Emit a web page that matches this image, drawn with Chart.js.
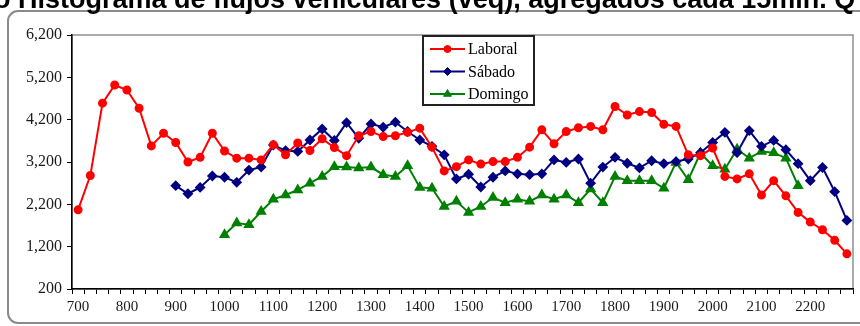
<!DOCTYPE html>
<html>
<head>
<meta charset="utf-8">
<script src="https://cdn.jsdelivr.net/npm/chart.js@4.4.1/dist/chart.umd.min.js"></script>
<style>
  html, body { margin: 0; padding: 0; background: #fff; overflow: hidden; }
  #wrap { position: relative; width: 860px; height: 326px; overflow: hidden; }
  #chart { position: absolute; left: 0; top: 0; }
  #title {
    position: absolute; left: -6px; top: -14px; white-space: nowrap;
    font: bold 27px "Liberation Sans", Arial, sans-serif; line-height: 27px; color: #000;
  }
</style>
</head>
<body>
<div id="wrap">
  <canvas id="chart" width="860" height="326"></canvas>
  <div id="title">o Histograma de flujos vehiculares (veq), agregados cada 15min. Q</div>
</div>
<script>
// time slots (hhmm as decimal hour*100, every 15 min)
const slots = [
    700, 725, 750, 775, 800, 825, 850, 875, 900, 925, 950, 975,
    1000, 1025, 1050, 1075, 1100, 1125, 1150, 1175, 1200, 1225, 1250, 1275,
    1300, 1325, 1350, 1375, 1400, 1425, 1450, 1475, 1500, 1525, 1550, 1575,
    1600, 1625, 1650, 1675, 1700, 1725, 1750, 1775, 1800, 1825, 1850, 1875,
    1900, 1925, 1950, 1975, 2000, 2025, 2050, 2075, 2100, 2125, 2150, 2175,
    2200, 2225, 2250, 2275,
];

// Laboral starts at 700
const laboral = [
    2070, 2880, 4590, 5020, 4900, 4470, 3580, 3880, 3660, 3200,
    3310, 3880, 3460, 3290, 3290, 3250, 3610, 3370, 3650, 3470,
    3750, 3540, 3350, 3820, 3920, 3800, 3820, 3900, 4000, 3550,
    2990, 3090, 3250, 3150, 3210, 3210, 3310, 3550, 3960, 3630,
    3920, 4010, 4040, 3960, 4510, 4310, 4390, 4370, 4090, 4040,
    3370, 3350, 3530, 2860, 2800, 2920, 2420, 2760, 2400, 2010,
    1780, 1600, 1350, 1030,
];

// Sábado starts at 900
const sabadoStart = 900;
const sabado = [
    2640, 2450, 2600, 2870, 2840, 2720, 3010, 3080, 3600, 3470,
    3450, 3720, 3980, 3710, 4130, 3760, 4100, 4020, 4140, 3920,
    3720, 3570, 3370, 2800, 2910, 2610, 2840, 2990, 2920, 2900,
    2920, 3250, 3190, 3270, 2700, 3080, 3310, 3170, 3060, 3230,
    3160, 3210, 3270, 3420, 3660, 3900, 3420, 3940, 3570, 3710,
    3490, 3160, 2760, 3070, 2500, 1820,
];

// Domingo starts at 1000
const domingoStart = 1000;
const domingo = [
    1480, 1760, 1720, 2030, 2320, 2420, 2540, 2700, 2860, 3090,
    3080, 3060, 3080, 2900, 2860, 3110, 2600, 2580, 2150, 2270,
    2010, 2150, 2360, 2240, 2320, 2270, 2420, 2320, 2420, 2240,
    2560, 2240, 2860, 2760, 2760, 2760, 2580, 3190, 2780, 3410,
    3110, 3030, 3500, 3290, 3450, 3420, 3290, 2640,
];

const yMin = 200;
const yMax = 6200;
const yStep = 1000;

// pad a series that starts later in the day with empty slots
function fromSlot(start, values) {
    const lead = slots.indexOf(start);
    return new Array(lead).fill(null).concat(values);
}

const serif = '"Liberation Serif", "Times New Roman", serif';

const frame = {
    id: 'frame',
    beforeDraw(chart) {
        const c = chart.ctx;
        const a = chart.chartArea;
        c.save();
        c.fillStyle = '#fff';
        c.fillRect(0, 0, chart.width, chart.height);
        c.strokeStyle = '#8a8a8a';
        c.lineWidth = 2;
        c.beginPath();
        c.roundRect(8, 11, 870, 312, 10);
        c.stroke();
        c.lineWidth = 1.5;
        c.strokeStyle = '#909090';
        c.strokeRect(a.left, a.top, a.right - a.left, a.bottom - a.top);
        c.restore();
    },
};

const legendBox = {
    id: 'legendBox',
    afterDraw(chart) {
        const c = chart.ctx;
        const x = 423, y = 36, w = 111, h = 69;
        c.save();
        c.fillStyle = '#fff';
        c.fillRect(x, y, w, h);
        c.strokeStyle = '#222';
        c.lineWidth = 2;
        c.strokeRect(x, y, w, h);
        c.font = '16px ' + serif;
        c.textBaseline = 'middle';
        chart.data.datasets.forEach((ds, i) => {
            const ly = y + 13 + i * 22.5;
            c.strokeStyle = ds.borderColor;
            c.lineWidth = ds.borderWidth;
            c.beginPath();
            c.moveTo(x + 7, ly);
            c.lineTo(x + 42, ly);
            c.stroke();
            c.fillStyle = ds.pointBackgroundColor;
            c.lineWidth = 1;
            Chart.helpers.drawPoint(c, {
                pointStyle: ds.pointStyle, radius: ds.pointRadius, rotation: 0, borderWidth: 1,
            }, x + 24.5, ly);
            c.fillStyle = '#000';
            c.fillText(ds.label, x + 45, ly + 1);
        });
        c.restore();
    },
};

const ctx = document.getElementById('chart').getContext('2d');

new Chart(ctx, {
    type: 'line',
    data: {
        labels: slots,
        datasets: [{
            label: 'Laboral',
            data: laboral,
            borderColor: '#ff0000',
            pointBackgroundColor: '#ff0000',
            pointBorderColor: '#ff0000',
            pointStyle: 'circle',
            pointRadius: 3.5,
            borderWidth: 2,
        }, {
            label: 'Sábado',
            data: fromSlot(sabadoStart, sabado),
            borderColor: '#000080',
            pointBackgroundColor: '#000080',
            pointBorderColor: '#000080',
            pointStyle: 'rectRot',
            pointRadius: 4,
            borderWidth: 2,
        }, {
            label: 'Domingo',
            data: fromSlot(domingoStart, domingo),
            borderColor: '#008000',
            pointBackgroundColor: '#008000',
            pointBorderColor: '#008000',
            pointStyle: 'triangle',
            pointRadius: 4.5,
            borderWidth: 2,
        }],
    },
    options: {
        responsive: false,
        animation: false,
        layout: { padding: { left: 0, right: 7, top: 35, bottom: 0 } },
        plugins: {
            legend: { display: false },
            tooltip: { enabled: false },
        },
        scales: {
            x: {
                type: 'category',
                offset: true,
                grid: { offset: true, drawOnChartArea: false, tickLength: 5, color: '#000', lineWidth: 1 },
                border: { color: '#000', width: 1.5 },
                ticks: {
                    autoSkip: false,
                    maxRotation: 0,
                    padding: 4,
                    color: '#1a1a1a',
                    font: { family: serif, size: 15 },
                    callback(v, i) {
                        return i % 4 === 0 ? String(this.getLabelForValue(v)) : '';
                    },
                },
                afterFit(s) { s.height = 37; },
            },
            y: {
                min: yMin,
                max: yMax,
                grid: { drawOnChartArea: false, tickLength: 5, color: '#000', lineWidth: 1 },
                border: { color: '#000', width: 1.5 },
                ticks: {
                    stepSize: yStep,
                    padding: 5,
                    color: '#1a1a1a',
                    font: { family: serif, size: 16 },
                    callback: (v) => v.toLocaleString('en-US'),
                },
                afterFit(s) { s.width = 72; },
            },
        },
    },
    plugins: [frame, legendBox],
});
</script>
</body>
</html>
